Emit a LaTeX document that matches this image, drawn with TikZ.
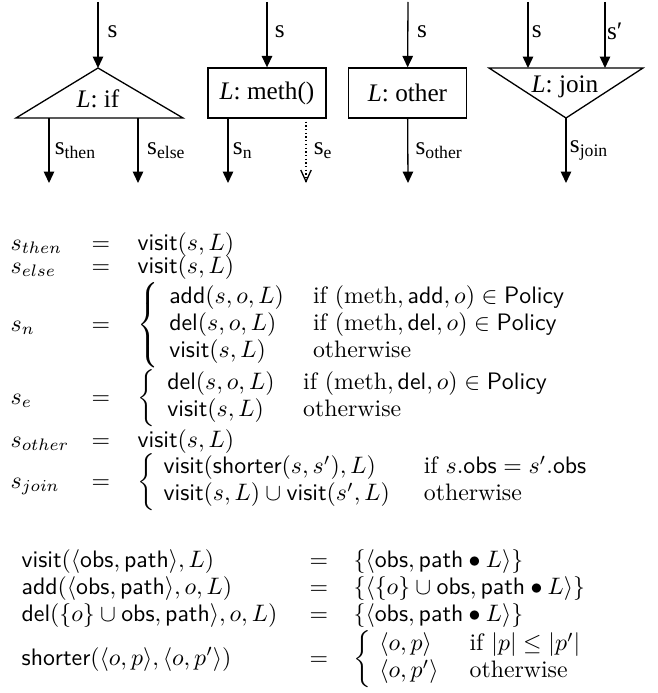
\documentclass[tikz,border=0pt]{standalone}
\usepackage{fontspec}
\newfontfamily\timesfont{Liberation Serif}
\usetikzlibrary{arrows.meta}

\newcommand{\tms}[1]{{\timesfont\fontsize{10.6}{12.7}\selectfont #1}}
\newcommand{\brc}[3][10pt]{\left\{\begin{array}{@{\hspace{#2}}l@{\hspace{#1}}l}#3\end{array}\right.}

\begin{document}
\begin{tikzpicture}[
    x=0.42pt, y=-0.42pt, line width=0.55pt,
    >={Triangle[width=4.4pt,length=4.8pt]},
    lbl/.style={right, inner sep=3pt},
    stmt/.style={draw, minimum width=49.6pt, minimum height=21pt, inner sep=0pt},
    lhs/.style={anchor=base west, inner sep=0pt},
    rel/.style={anchor=base, inner sep=0pt},
    rhs/.style={anchor=base west, inner sep=0pt, font=\fontsize{10}{11.34}\selectfont}
]
\useasboundingbox (0,0) rectangle (657,693);

% L: if
\coordinate (ifIn) at (98,2);
\coordinate (ifTop) at (98,68);
\coordinate (ifL) at (16,118);
\coordinate (ifR) at (183,118);
\draw (ifTop) -- (ifL) -- (ifR) -- cycle;
\node[anchor=base] (ifTxt) at (98,108) {\tms{\textit{L}: if}};
\coordinate (thenOut) at (49,118);
\coordinate (thenEnd) at (49,183);
\coordinate (elseOut) at (138,118);
\coordinate (elseEnd) at (138,183);

% L: meth()
\node[stmt] (meth) at (267,93) {\tms{\textit{L}: meth()}};
\coordinate (methIn) at (267,2);
\coordinate (nOut) at (228,118);
\coordinate (nEnd) at (228,183);
\coordinate (eOut) at (306,118);
\coordinate (eEnd) at (306,183);

% L: other
\node[stmt] (other) at (407.5,93) {\tms{\textit{L}: other}};
\coordinate (otherIn) at (408,2);
\coordinate (otherEnd) at (408,183);

% L: join
\coordinate (joinL) at (489,68);
\coordinate (joinR) at (643,68);
\coordinate (joinBot) at (566,118);
\draw (joinL) -- (joinR) -- (joinBot) -- cycle;
\node[anchor=base] (joinTxt) at (565,93) {\tms{\textit{L}: join}};
\coordinate (sIn) at (528,2);
\coordinate (sTop) at (528,68);
\coordinate (spIn) at (605,2);
\coordinate (spTop) at (605,68);
\coordinate (joinEnd) at (566,183);

\path[->] (ifIn) edge node[lbl, pos=0.45, inner sep=3.8pt] {\tms{s}} (ifTop)
          (thenOut) edge node[lbl, inner sep=2.2pt] {\tms{s\textsubscript{then}}} (thenEnd)
          (elseOut) edge node[lbl, inner sep=3.6pt] {\tms{s\textsubscript{else}}} (elseEnd)
          (methIn) edge node[lbl, pos=0.45] {\tms{s}} (meth)
          (nOut) edge node[lbl, inner sep=1.8pt] {\tms{s\textsubscript{n}}} (nEnd)
          (eOut) edge[densely dotted, -{Straight Barb[width=4.4pt,length=4.8pt]}]
                 node[lbl] {\tms{s\textsubscript{e}}} (eEnd)
          (otherIn) edge node[lbl, pos=0.45, inner sep=3.6pt] {\tms{s}} (other)
          (other) edge node[lbl] {\tms{s\textsubscript{other}}} (otherEnd)
          (sIn) edge node[lbl, pos=0.45, inner sep=1.4pt] {\tms{s}} (sTop)
          (spIn) edge node[lbl, pos=0.45, inner sep=0.6pt] {\tms{s′}} (spTop)
          (joinBot) edge node[lbl, inner sep=1.4pt] {\tms{s\textsubscript{join}}} (joinEnd);

% transfer functions
\node[lhs] (sThen) at (10,250) {$s_{then}$};
\node[rel] (qThen) at (101,250) {$=$};
\node[rhs] (rThen) at (137,250) {$\mathsf{visit}(s,L)$};
\node[lhs] (sElse) at (10,273) {$s_{else}$};
\node[rel] (qElse) at (101,273) {$=$};
\node[rhs] (rElse) at (137,273) {$\mathsf{visit}(s,L)$};
\node[lhs] (sN) at (10,331) {$s_n$};
\node[rel] (qN) at (101,331) {$=$};
\node[rhs] (rN) at (137,331) {$\brc[12.2pt]{4.4pt}{
    \mathsf{add}(s,o,L) & \mbox{if } (\mathrm{meth},\mathsf{add},o)\in\mathsf{Policy}\\
    \mathsf{del}(s,o,L) & \mbox{if } (\mathrm{meth},\mathsf{del},o)\in\mathsf{Policy}\\
    \mathsf{visit}(s,L) & \mbox{otherwise}}$};
\node[lhs] (sE) at (10,404) {$s_e$};
\node[rel] (qE) at (101,404) {$=$};
\node[rhs] (rE) at (137,404) {$\brc[12pt]{5pt}{
    \mathsf{del}(s,o,L) & \mbox{if } (\mathrm{meth},\mathsf{del},o)\in\mathsf{Policy}\\
    \mathsf{visit}(s,L) & \mbox{otherwise}}$};
\node[lhs] (sOther) at (10,447) {$s_{other}$};
\node[rel] (qOther) at (101,447) {$=$};
\node[rhs] (rOther) at (137,447) {$\mathsf{visit}(s,L)$};
\node[lhs] (sJoin) at (10,488) {$s_{join}$};
\node[rel] (qJoin) at (101,488) {$=$};
\node[rhs] (rJoin) at (137,488) {$\brc[14.3pt]{3.4pt}{
    \mathsf{visit}(\mathsf{shorter}(s,s'),L) & \mbox{if } s.\mathsf{obs}=s'.\mathsf{obs}\\
    \mathsf{visit}(s,L)\cup\mathsf{visit}(s',L) & \mbox{otherwise}}$};

% helper functions
\node[lhs] (fVisit) at (21,567) {$\mathsf{visit}(\langle\mathsf{obs},\mathsf{path}\rangle,L)$};
\node[rel] (qVisit) at (319,567) {$=$};
\node[rhs] (rVisit) at (353,567) {$\{\langle\mathsf{obs},\mathsf{path}\bullet L\rangle\}$};
\node[lhs] (fAdd) at (21,594) {$\mathsf{add}(\langle\mathsf{obs},\mathsf{path}\rangle,o,L)$};
\node[rel] (qAdd) at (319,594) {$=$};
\node[rhs] (rAdd) at (353,594) {$\{\langle\{o\}\cup\mathsf{obs},\mathsf{path}\bullet L\rangle\}$};
\node[lhs] (fDel) at (21,621) {$\mathsf{del}(\{o\}\cup\mathsf{obs},\mathsf{path}\rangle,o,L)$};
\node[rel] (qDel) at (319,621) {$=$};
\node[rhs] (rDel) at (353,621) {$\{\langle\mathsf{obs},\mathsf{path}\bullet L\rangle\}$};
\node[lhs] (fShort) at (21,665) {$\mathsf{shorter}(\langle o,p\rangle,\langle o,p'\rangle)$};
\node[rel] (qShort) at (319,665) {$=$};
\node[rhs] (rShort) at (353,665) {$\brc[13pt]{3.3pt}{
    \langle o,p\rangle & \mbox{if } |p|\leq|p'|\\
    \langle o,p'\rangle & \mbox{otherwise}}$};

\end{tikzpicture}
\end{document}
